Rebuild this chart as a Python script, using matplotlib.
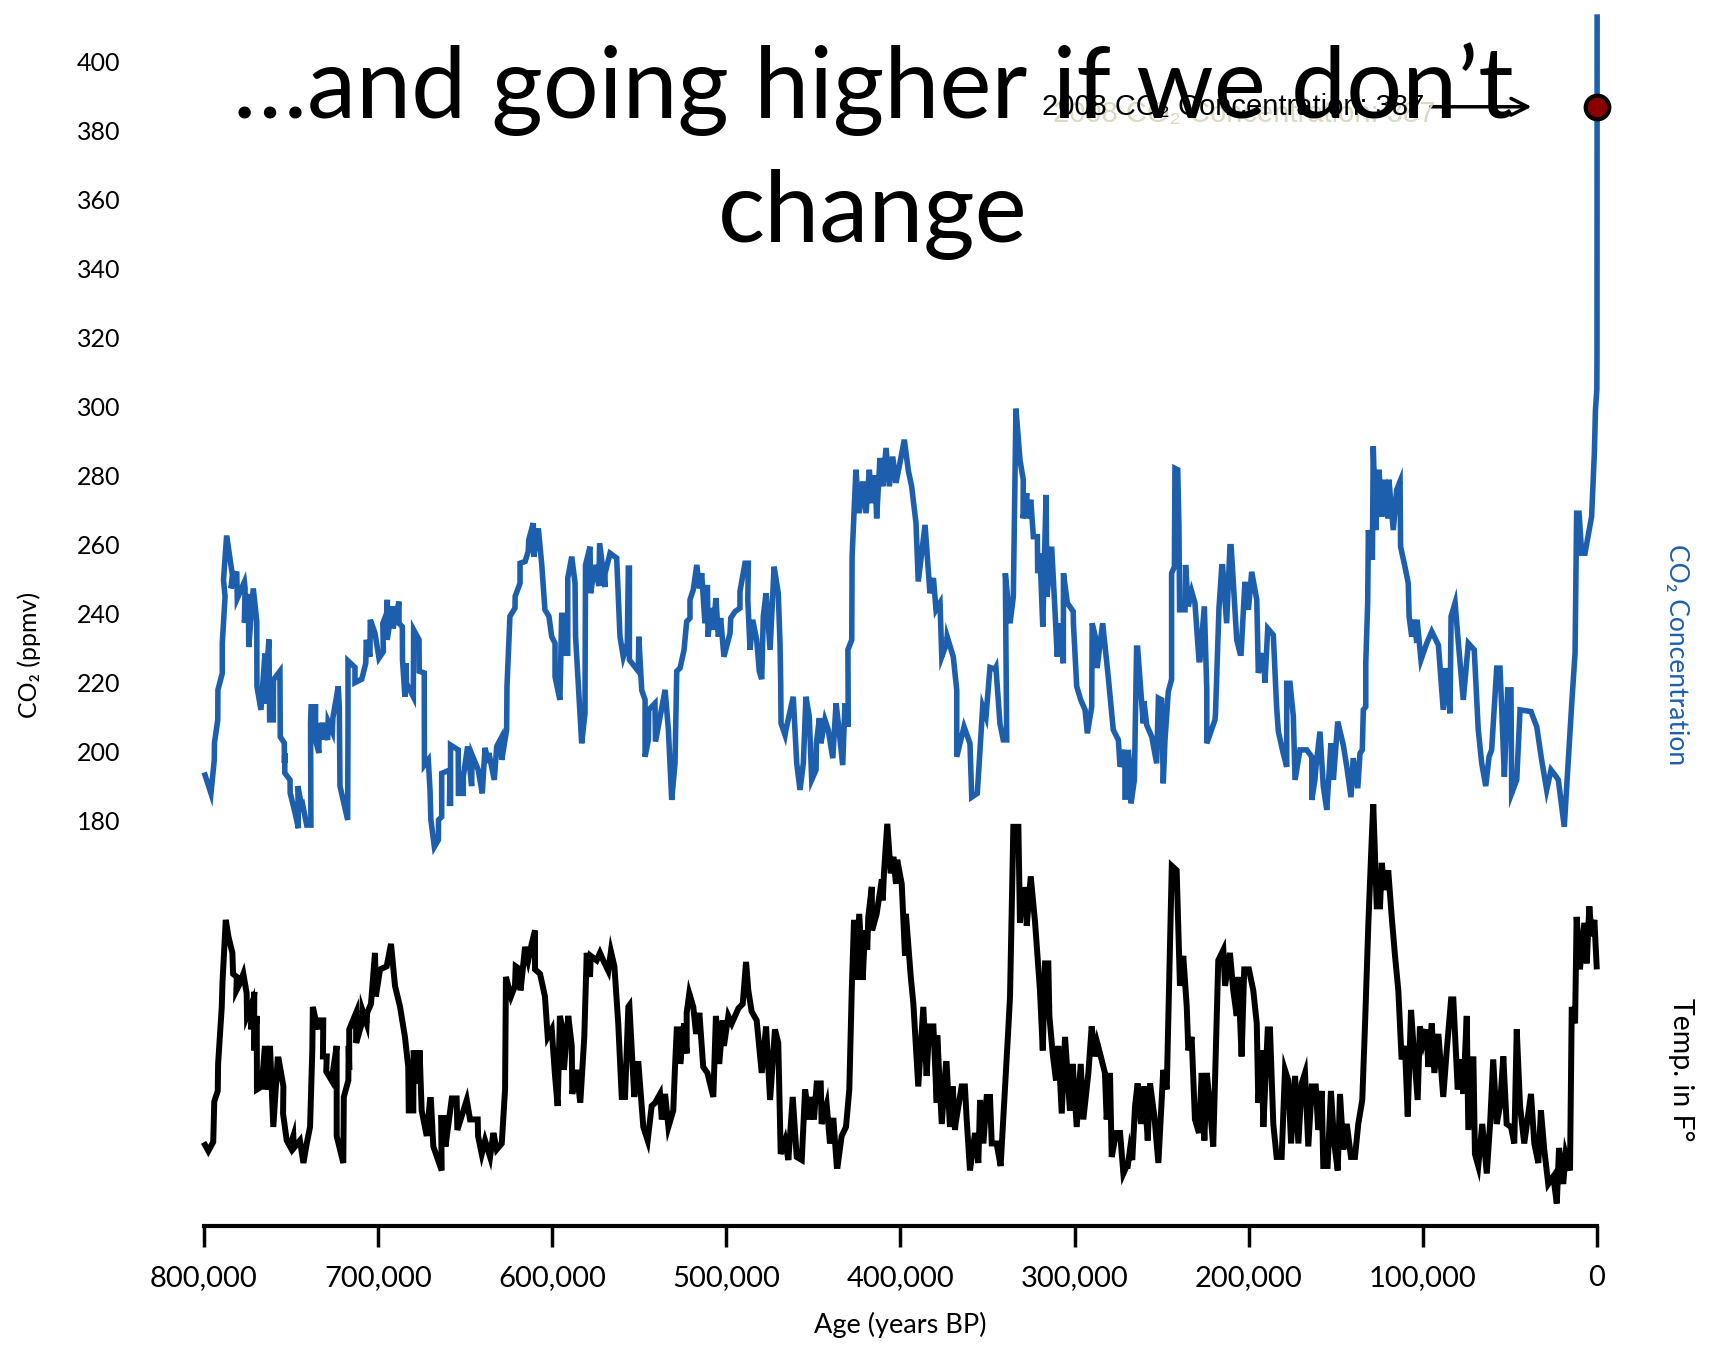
import numpy as np
import matplotlib.pyplot as plt

# ---- data: EPICA Dome C, CO2 (ppmv) and temperature anomaly (deg F) ----
co2_age_kyr = [
    799.4, 796.0, 794.1, 794.0, 792.1, 792.0, 789.5, 789.5, 787.9, 788.8, 787.1, 786.8,
    783.7, 784.5, 781.2, 780.9, 776.8, 776.4, 776.8, 774.5, 774.3, 771.7, 769.7, 769.6,
    767.3, 765.0, 765.3, 762.7, 762.3, 760.2, 760.1, 756.4, 756.2, 753.9, 753.8, 753.6,
    753.6, 750.6, 750.5, 747.7, 745.8, 746.1, 743.9, 743.3, 741.0, 738.6, 738.8, 738.5,
    735.9, 736.0, 734.0, 734.0, 732.4, 732.2, 729.0, 728.7, 726.3, 726.0, 722.9, 722.3,
    721.9, 717.5, 717.3, 717.3, 713.3, 713.3, 709.4, 707.1, 706.8, 704.7, 704.5, 701.8,
    699.5, 697.0, 697.3, 695.1, 694.7, 694.8, 691.8, 691.4, 688.0, 688.0, 686.1, 686.0,
    684.6, 684.0, 683.7, 679.8, 679.6, 676.5, 676.4, 673.5, 673.5, 673.4, 671.2, 670.2,
    669.7, 667.7, 665.4, 665.3, 663.5, 663.5, 658.7, 659.0, 658.4, 658.4, 654.0, 653.9,
    651.1, 651.1, 648.6, 646.3, 646.0, 642.5, 640.2, 638.6, 636.7, 636.4, 633.3, 631.9,
    629.4, 629.0, 626.2, 626.0, 624.3, 621.4, 621.3, 618.5, 618.5, 615.6, 613.8, 613.5,
    610.9, 610.6, 608.0, 606.1, 604.2, 601.9, 600.3, 598.4, 598.4, 595.6, 594.6, 594.0,
    593.9, 591.1, 591.1, 588.8, 586.9, 586.6, 583.1, 581.2, 580.9, 578.3, 578.0, 575.4,
    573.2, 572.8, 569.7, 569.7, 566.8, 563.0, 561.1, 559.2, 556.9, 556.3, 555.7, 555.7,
    550.6, 550.3, 548.6, 546.7, 546.7, 544.8, 544.6, 541.0, 540.7, 535.2,
    533.3, 531.4, 529.5, 528.5, 526.6, 524.7, 524.3, 522.8, 520.9, 520.9, 519.0, 517.0,
    515.5, 514.2, 512.3, 510.9, 510.5, 509.0, 507.5, 506.0, 504.6, 503.3, 501.4, 497.9,
    497.5, 495.0, 492.2, 492.2, 489.3, 487.4, 487.7, 486.4, 484.9, 482.6, 481.1, 479.7,
    478.8, 477.2, 474.9, 472.6, 470.2, 469.2, 468.8, 468.6, 466.3, 465.8, 461.6, 459.6,
    457.7, 455.8, 454.3, 452.4, 451.0, 448.5, 448.3, 446.6, 445.7, 443.4, 441.5, 438.9,
    437.0, 435.7, 433.2, 431.9, 430.0, 430.2, 428.0, 427.8, 425.6, 423.7, 421.7, 419.8,
    417.9, 416.5, 414.6, 413.7, 411.8, 410.2, 408.3, 406.4, 404.5, 402.6, 400.7, 397.8,
    395.5, 393.6, 391.1, 389.8, 385.9, 383.1, 381.1, 379.6, 377.3, 376.3, 373.5, 373.2,
    369.7, 367.7, 367.7, 363.5, 360.1, 359.1, 355.9, 352.8, 350.9, 348.6, 345.7, 345.2,
    342.9, 341.0, 339.0, 339.8, 337.1, 335.2, 333.7, 331.4, 329.5, 329.6, 327.5, 327.2,
    325.2, 323.7, 321.4, 321.2, 319.9, 318.3, 316.4, 315.9, 313.2, 311.3, 310.0, 308.4,
    306.5, 306.4, 304.2, 300.8, 300.7, 298.8, 296.5, 294.0, 292.7, 290.2, 289.9, 287.3,
    287.1, 283.9, 280.7, 277.8, 274.9, 273.9, 271.1, 271.1, 268.2,
    269.2, 267.6, 265.7, 264.4, 263.8, 260.6, 260.2, 258.6, 255.7, 252.9, 251.9, 250.0,
    249.1, 248.1, 246.2, 244.3, 244.3, 242.7, 242.4, 240.8, 240.1, 239.7, 236.6, 236.3,
    234.7, 232.8, 230.9, 228.6, 228.0, 225.5, 224.1, 224.1, 219.4, 219.1, 217.1, 215.5,
    215.0, 212.7, 210.8, 210.1, 206.9, 205.0, 204.4, 202.2, 200.2, 198.3, 195.4, 194.5,
    191.6, 190.7, 189.1, 185.9, 184.0, 183.0, 180.2, 178.2, 178.2, 176.3, 174.4, 173.4,
    170.6, 166.7, 163.8, 163.8, 162.0, 161.4, 159.1, 157.2, 155.2, 152.8, 151.4, 148.9,
    145.7, 143.7, 141.3, 140.0, 137.4, 136.1, 134.8, 134.2, 132.8, 132.8, 131.7, 131.3,
    129.0, 128.5, 127.1, 125.2, 123.6, 121.8, 119.9, 119.5, 117.0, 115.0, 113.1, 112.8,
    110.3, 108.4, 107.9, 106.4, 104.9, 103.5, 103.3, 101.1, 97.8, 94.9, 91.1, 88.3,
    86.9, 84.4, 83.8, 81.5, 79.6, 76.8, 73.9, 70.5, 68.2, 66.2, 63.9, 62.0,
    60.5, 57.6, 55.7, 54.7, 53.2, 51.3, 49.4, 49.0, 46.1, 44.2, 37.9, 34.6,
    31.8, 28.9, 26.4, 24.1, 22.2, 18.8, 14.5, 12.6, 11.7, 10.3, 8.8, 6.9,
    3.1, 1.5, 0.9, 0.1, 0.0, -0.058, -0.07,
]
co2_ppmv = [
    193.3, 188.0, 197.7, 202.6, 209.3, 218.0, 222.8, 231.6, 245.0, 249.9, 262.0, 262.0,
    251.3, 247.4, 252.3, 244.5, 249.3, 247.4, 237.5, 245.8, 230.4, 247.4, 237.9, 219.0,
    212.2, 228.5, 214.0, 232.6, 209.3, 209.3, 220.9, 223.4, 204.4, 202.6, 196.8, 199.7,
    193.9, 191.9, 188.1, 182.3, 177.9, 190.1, 184.2, 184.6, 178.8, 178.8, 208.4, 213.1,
    213.1, 203.5, 199.7, 208.4, 203.5, 208.4, 203.5, 208.8, 205.9, 209.8, 219.0, 213.1,
    190.1, 180.3, 207.3, 226.4, 224.5, 220.1, 221.1, 225.7, 232.5, 227.6, 238.3, 234.4,
    227.2, 229.1, 237.3, 240.2, 244.1, 232.5, 242.2, 235.8, 243.6, 237.3, 236.3, 226.7,
    216.0, 225.7, 219.9, 216.0, 235.4, 232.5, 223.4, 222.9, 216.0, 196.2, 197.7, 189.0,
    180.3, 172.5, 174.5, 180.3, 181.2, 193.8, 194.8, 185.1, 185.1, 202.0, 200.6, 188.0,
    188.0, 192.8, 201.6, 190.1, 199.1, 194.8, 188.0, 201.2, 196.8, 199.7, 191.9, 201.6,
    204.0, 197.7, 206.4, 219.0, 239.3, 241.7, 245.1, 248.9, 254.7, 255.2, 258.1, 261.5,
    266.3, 256.6, 264.8, 254.7, 241.2, 239.3, 233.4, 231.5, 221.8, 215.1, 239.6, 239.6,
    228.6, 228.6, 250.4, 256.6, 248.9, 233.4, 202.5, 211.2, 254.2, 259.5, 246.0, 254.2,
    248.1, 260.5, 247.8, 251.7, 257.6, 256.2, 233.4, 227.6, 231.5, 253.3, 253.3, 226.7,
    223.4, 233.4, 217.9, 215.1, 198.6, 203.5, 212.2, 214.1, 203.0, 218.0,
    206.4, 186.1, 196.7, 223.4, 224.3, 228.6, 229.6, 237.8, 238.8, 244.1, 247.0, 254.2,
    247.4, 251.8, 237.3, 248.4, 233.4, 241.7, 235.4, 244.6, 233.4, 238.8, 227.6, 234.4,
    238.8, 240.7, 241.7, 246.5, 254.7, 254.7, 244.1, 229.6, 238.3, 232.5, 223.4, 221.1,
    239.3, 246.0, 229.6, 253.7, 246.0, 231.5, 219.9, 208.3, 204.9, 206.4, 216.0, 196.7,
    189.0, 196.7, 216.0, 210.3, 191.9, 194.8, 202.5, 209.8, 202.5, 209.3, 206.4, 198.2,
    214.1, 208.3, 196.2, 214.1, 207.3, 229.6, 232.5, 256.6, 281.8, 269.2, 278.4, 269.2,
    281.8, 272.1, 280.2, 267.7, 285.2, 277.0, 288.1, 277.0, 285.6, 278.0, 282.8, 290.5,
    281.5, 277.0, 266.3, 249.4, 265.8, 246.0, 250.4, 241.2, 243.2, 227.6, 231.5, 233.4,
    227.6, 217.9, 198.6, 207.3, 202.5, 186.9, 188.0, 213.1, 210.3, 224.5, 224.0, 224.5,
    208.3, 203.5, 203.5, 251.8, 237.3, 245.0, 299.5, 284.7, 278.9, 267.7, 275.0, 267.7,
    273.1, 262.4, 262.4, 251.8, 257.6, 236.3, 274.5, 245.0, 259.5, 241.2, 227.6, 237.3,
    225.7, 251.8, 243.2, 240.7, 237.3, 219.0, 215.1, 212.2, 205.4, 213.1, 237.3, 231.6,
    224.3, 237.3, 221.8, 206.4, 203.5, 195.7, 200.6, 186.9, 186.9,
    200.6, 185.1, 191.9, 230.1, 230.1, 208.3, 214.7, 207.8, 204.4, 196.7, 215.6, 215.1,
    190.9, 203.5, 217.5, 221.1, 251.8, 253.7, 282.2, 281.8, 265.3, 241.2, 241.2, 254.2,
    242.2, 246.5, 243.2, 226.7, 226.7, 242.2, 217.9, 202.5, 209.3, 211.2, 241.7, 253.7,
    253.7, 237.3, 259.5, 259.5, 232.5, 228.6, 228.6, 249.3, 241.2, 252.2, 244.1, 222.9,
    228.6, 220.1, 235.8, 233.9, 213.1, 205.9, 199.6, 195.7, 219.9, 219.9, 210.3, 191.9,
    200.6, 200.6, 198.6, 186.1, 191.9, 195.7, 205.9, 190.1, 183.2, 202.5, 191.9, 208.8,
    202.0, 195.7, 186.9, 198.2, 189.5, 199.6, 200.6, 212.2, 213.1, 225.7, 243.2, 264.3,
    255.7, 288.6, 264.3, 281.8, 268.2, 278.9, 267.7, 278.9, 264.3, 276.0, 278.4, 259.5,
    253.7, 248.9, 239.3, 233.4, 238.3, 231.6, 238.3, 226.7, 231.5, 234.9, 231.0, 212.2,
    224.3, 211.2, 239.3, 243.2, 231.5, 215.1, 231.5, 229.6, 206.4, 196.7, 190.1, 198.6,
    200.6, 224.3, 224.3, 212.2, 192.8, 218.0, 218.0, 188.0, 191.9, 212.2, 211.7, 207.3,
    197.7, 189.0, 194.8, 193.3, 191.9, 178.3, 214.1, 228.6, 269.2, 269.2, 257.6, 257.6,
    268.2, 286.9, 299.0, 305.0, 315.0, 387.0, 413.0,
]

temp_age_kyr = [
    799.4, 797.5, 794.7, 794.1, 792.1, 791.9, 789.8, 789.4, 787.5, 786.0, 783.7, 783.3,
    781.2, 781.4, 779.3, 777.4, 775.5, 775.3, 772.6, 772.9, 771.1, 771.3, 769.7, 769.6,
    766.9, 765.0, 764.5, 762.1, 760.2, 757.7, 757.1, 754.4, 754.6, 752.5, 750.6, 748.7,
    748.4, 744.9, 742.9, 741.0, 739.1, 737.8, 737.5, 734.7, 734.3, 731.5, 731.7, 729.5,
    729.8, 726.7, 723.8, 723.8, 720.0, 719.7, 717.1, 716.9, 716.6, 716.6, 712.7, 712.6,
    709.4, 709.1, 706.6, 706.3, 704.1, 701.8, 701.3, 698.9, 695.1, 692.6, 690.3, 687.4,
    684.6, 682.7, 682.4, 679.8, 679.6, 676.5, 676.2, 675.0, 672.1, 670.2, 669.7, 668.3,
    663.5, 663.8, 661.6, 661.3, 657.7, 654.9, 654.5, 649.1, 647.2, 642.8, 642.6, 640.5,
    638.6, 635.7, 633.8, 631.9, 629.0, 627.1, 626.8, 626.6, 623.7, 621.4, 621.0, 618.5,
    618.2, 615.6, 613.8, 611.8, 609.9, 609.9, 607.0, 604.2, 602.6, 600.3, 598.4, 596.9,
    595.6, 593.6, 593.3, 590.8, 588.8, 588.5, 586.0, 584.1, 583.8, 581.6, 580.2, 578.3,
    577.9, 574.5, 572.6, 570.7, 567.8, 566.3, 564.3, 562.1, 560.1, 558.2, 556.3, 555.7,
    552.9, 550.9, 550.5, 547.7, 545.2, 542.9, 541.0, 538.1, 537.1, 535.2,
    533.3, 530.5, 529.5, 528.5, 526.6, 526.5, 524.3, 522.8, 522.8, 521.3, 519.0, 517.4,
    515.5, 513.3, 510.9, 507.5, 506.0, 504.1, 502.1, 501.4, 498.9, 496.9, 495.0, 493.1,
    490.6, 488.7, 487.4, 485.5, 482.6, 479.7, 477.2, 474.9, 472.1, 470.2, 468.8, 466.3,
    464.4, 461.9, 459.6, 456.7, 454.8, 452.4, 451.0, 449.7, 448.1, 445.8, 445.3, 442.4,
    440.5, 438.6, 436.6, 436.1, 433.8, 431.3, 429.4, 428.0, 426.7, 425.2, 423.7, 421.7,
    420.4, 419.1, 418.5, 416.5, 416.3, 413.7, 410.7, 410.2, 409.5, 407.6, 405.6, 404.1,
    402.6, 401.9, 399.3, 397.4, 396.9, 394.1, 392.6, 389.8, 386.9, 385.0, 383.5, 381.1,
    379.2, 378.9, 376.3, 373.9, 373.5, 371.6, 370.0, 368.7, 368.4, 364.9, 363.0, 362.0,
    360.1, 357.2, 355.3, 354.3, 352.4, 350.5, 348.6, 347.6, 344.8, 342.5, 340.0, 338.1,
    337.1, 335.2, 332.3, 331.4, 329.8, 327.9, 327.5, 325.2, 322.7, 319.9, 318.3, 317.0,
    315.1, 314.5, 312.6, 310.7, 309.4, 307.4, 305.5, 302.7, 301.1, 298.8, 296.5, 295.0,
    292.1, 290.2, 288.3, 287.0, 285.4, 282.6, 281.6, 279.7, 278.7, 276.2, 273.9, 272.0,
    270.1, 269.5, 268.2, 266.9, 265.3, 263.8, 261.9, 260.0, 258.0, 256.7, 254.2, 251.9,
    249.1, 247.1, 244.2, 241.4, 239.5, 237.6, 235.6, 234.7, 232.8, 230.9, 228.6, 227.0,
    225.5, 224.1, 222.3, 220.4, 219.0, 217.5, 214.6, 213.6, 210.8, 208.9, 206.9, 206.0,
    204.1, 202.6, 199.9, 197.4, 195.4, 194.5, 192.6, 191.6, 189.1, 187.8, 185.9, 184.0,
    181.1, 179.2, 177.3, 175.7, 173.4, 171.5, 169.6, 167.7, 165.8, 163.8, 161.5, 160.1,
    158.1, 157.2, 154.7, 152.8, 150.9, 148.9, 147.6, 145.7, 143.7, 141.3, 139.0, 137.1,
    134.8, 133.2, 131.3, 129.4, 128.5, 127.5, 126.5, 124.6, 123.6, 122.2, 119.9, 117.9,
    116.0, 114.1, 112.2, 110.3, 108.7, 106.8, 105.5, 103.0, 101.7, 99.8, 97.8, 96.9,
    94.9, 93.4, 91.1, 88.3, 86.3, 83.8, 82.5, 80.0, 78.1, 76.8, 74.8, 73.9,
    71.0, 70.1, 68.2, 65.9, 63.3, 61.4, 59.6, 57.6, 55.7, 53.8, 51.9, 49.4,
    47.5, 46.1, 44.2, 41.8, 37.9, 36.0, 33.7, 32.2, 30.3, 28.0, 25.1, 23.1,
    21.8, 19.4, 18.0, 15.5, 14.5, 12.6, 11.7, 9.8, 7.3, 5.9, 4.4, 3.1,
    1.5, 0.2,
]
temp_anomaly_f = [
    -13.0, -13.4, -12.8, -10.1, -9.4, -7.6, -3.8, -2.2, 2.0, 0.9, -0.2, -1.6,
    -1.8, -2.7, -2.2, -1.6, -2.9, -4.4, -3.6, -5.3, -2.8, -6.7, -4.4, -9.3,
    -9.1, -6.4, -9.3, -6.4, -11.8, -7.3, -7.3, -9.1, -10.9, -12.7, -13.1, -12.4,
    -13.2, -12.7, -14.2, -12.9, -11.8, -6.7, -3.8, -5.3, -4.7, -4.7, -7.1, -7.1,
    -8.1, -8.7, -6.4, -12.4, -14.2, -9.8, -8.7, -6.4, -8.0, -5.3, -4.2, -6.2,
    -4.9, -4.0, -4.9, -4.2, -3.6, -0.2, -3.1, -1.3, -1.1, 0.4, -2.4, -3.8,
    -5.8, -7.8, -10.7, -10.7, -6.7, -8.9, -6.7, -10.7, -12.4, -10.0, -10.0, -13.1,
    -14.7, -11.2, -11.2, -13.1, -9.9, -9.9, -12.0, -10.0, -11.3, -11.3, -12.4, -13.6,
    -12.7, -13.8, -12.2, -13.3, -12.9, -9.3, -5.3, -1.8, -3.1, -2.4, -1.1, -1.3,
    -2.7, 0.2, -0.7, 0.4, 1.3, -1.3, -1.6, -3.1, -5.8, -5.3, -8.4, -10.4,
    -4.4, -5.6, -8.0, -4.4, -6.4, -9.6, -8.0, -10.0, -10.0, -5.8, -0.2, -1.8,
    -0.4, -0.7, -0.2, -0.7, -1.4, -0.1, -1.1, -4.9, -9.8, -9.8, -3.8, -3.7,
    -9.8, -7.6, -7.6, -11.8, -12.7, -10.4, -10.2, -9.6, -11.3, -9.6,
    -11.8, -10.7, -7.8, -5.3, -5.3, -7.6, -4.9, -6.9, -4.2, -2.9, -3.8, -5.6,
    -4.2, -7.8, -8.2, -9.8, -4.4, -7.6, -4.7, -6.4, -4.4, -4.9, -4.4, -3.9,
    -3.6, -0.8, -2.7, -4.1, -4.7, -8.2, -5.1, -10.0, -5.3, -6.2, -13.6, -12.7,
    -14.0, -9.8, -13.8, -14.0, -9.3, -11.3, -9.8, -11.3, -8.9, -8.9, -11.6, -10.3,
    -12.9, -11.2, -14.4, -14.4, -12.4, -11.8, -9.3, -2.7, 2.0, -2.0, 2.4, -2.0,
    1.3, 0.0, 2.2, 4.2, 1.3, 2.4, 4.7, 3.3, 5.1, 8.4, 5.1, 6.2,
    4.4, 6.0, 4.4, -0.4, 2.4, -1.8, -3.6, -9.1, -3.8, -8.4, -5.1, -5.1,
    -10.2, -5.7, -11.6, -7.6, -7.6, -11.8, -9.1, -12.0, -11.6, -9.1, -9.1, -11.3,
    -14.7, -12.2, -14.2, -10.0, -12.9, -9.8, -9.8, -12.9, -12.9, -14.4, -9.3, -5.3,
    -3.1, 8.2, 8.2, 1.8, 4.0, 4.0, 1.6, 4.9, 1.8, -2.7, -6.7, -0.9,
    -0.9, -4.4, -6.9, -8.7, -6.4, -10.9, -5.8, -10.7, -7.6, -11.8, -7.6, -11.3,
    -8.2, -5.1, -7.1, -6.2, -6.9, -8.2, -11.3, -8.2, -13.8, -12.2, -12.2, -14.9,
    -14.4, -14.4, -13.3, -14.0, -10.4, -8.9, -11.6, -9.1, -12.7, -8.9, -11.1, -14.2,
    -8.0, -9.3, 5.6, 5.3, -2.4, -0.4, -3.8, -6.7, -5.8, -11.3, -12.2, -8.2,
    -12.7, -8.2, -10.4, -13.1, -7.1, -0.7, 0.0, -2.4, -0.2, -2.7, -4.4, -1.8,
    -7.1, -1.3, -1.3, -2.7, -4.9, -10.2, -6.7, -11.8, -5.3, -5.3, -11.6, -13.8,
    -13.8, -8.0, -8.7, -12.9, -8.4, -12.9, -8.9, -8.2, -13.1, -9.1, -9.1, -12.0,
    -9.4, -14.4, -14.4, -9.4, -12.9, -14.7, -9.6, -13.3, -11.6, -13.8, -13.8, -11.6,
    -10.0, -4.9, 1.8, 7.3, 9.7, 6.2, 2.9, 2.9, 5.8, 4.0, 5.3, 2.2,
    -0.4, -2.7, -7.3, -6.4, -11.1, -4.0, -6.2, -10.0, -5.1, -6.2, -5.3, -7.8,
    -4.9, -8.2, -5.6, -9.8, -6.7, -3.3, -3.3, -9.3, -7.3, -9.6, -4.4, -12.0,
    -7.1, -13.6, -14.4, -11.6, -14.9, -11.6, -7.3, -11.6, -10.4, -7.1, -11.6, -11.8,
    -12.9, -5.3, -10.4, -12.9, -9.6, -12.9, -14.2, -10.7, -13.3, -15.6, -15.1, -16.9,
    -13.2, -15.6, -13.6, -14.7, -3.8, -4.9, 2.2, -1.3, 1.8, -0.9, 2.9, 0.9,
    2.0, -1.1,
]

co2_ticks = list(range(180, 401, 20))
age_ticks = list(range(0, 800001, 100000))
age_tick_labels = [f"{a:,}" for a in age_ticks]

co2_2008 = 387

blue = '#1e5fad'
font = ['Lato', 'DejaVu Sans']
plt.rcParams['font.family'] = font

W, H = 1712, 1348
fig = plt.figure(figsize=(W / 100, H / 100), dpi=100)
ax = fig.add_axes([204 / W, 122 / H, (1597 - 204) / W, (1226 - 15) / H])

age_co2 = np.array(co2_age_kyr) * 1000
age_t = np.array(temp_age_kyr) * 1000

# blue curve left unclipped so the modern spike at age 0 keeps its full width
ax.plot(age_co2, co2_ppmv, color=blue, lw=4, solid_joinstyle='miter', zorder=3, clip_on=False)
ax.set_xlim(800000, 0)
ax.set_ylim(62.6, 413.6)

# temperature on its own hidden scale
ax2 = ax.twinx()
ax2.plot(age_t, temp_anomaly_f, color='black', lw=4.3, solid_joinstyle='miter', clip_on=False)
ax2.set_ylim(-18.4, 62.3)
ax2.set_xlim(800000, 0)
ax2.axis('off')

for s in ['left', 'right', 'top']:
    ax.spines[s].set_visible(False)
ax.spines['bottom'].set_linewidth(3)
ax.set_xticks(age_ticks)
ax.set_xticklabels(age_tick_labels)
ax.set_yticks(co2_ticks)
ax.tick_params(axis='x', direction='out', length=15, width=2.5, pad=13, labelsize=21)
ax.tick_params(axis='y', length=0, pad=60, labelsize=18)
for lab in ax.get_yticklabels():
    lab.set_horizontalalignment('right')

ax.set_xlabel('Age (years BP)', fontsize=19.5, labelpad=15)
fig.text(29 / W, 1 - 655 / H, 'CO₂ (ppmv)', rotation=90, ha='center', va='center', fontsize=18)
fig.text(1676 / W, 1 - 655 / H, 'CO₂ Concentration', rotation=-90, ha='center', va='center',
         fontsize=19, color=blue)
fig.text(1681 / W, 1 - 1070 / H, 'Temp. in F°', rotation=-90, ha='center', va='center',
         fontsize=20.5)

# 2008 marker and callout
ax.plot([-58], [co2_2008], 'o', ms=17, mfc='#8b0000', mec='black', mew=3, zorder=5, clip_on=False)
ax.annotate('', xy=(36000, co2_2008), xytext=(97000, co2_2008),
            arrowprops=dict(arrowstyle='->', color='black', lw=2.5, mutation_scale=30), zorder=4)
lbl = f'2008 CO₂ Concentration: {co2_2008}'
ax.text(93000, co2_2008 - 2, lbl, ha='right', va='center', fontsize=21,
        family=['Liberation Sans', 'DejaVu Sans'], color='#ddd8c2', zorder=4)
ax.text(99000, co2_2008, lbl, ha='right', va='center', fontsize=21,
        family=['Liberation Sans', 'DejaVu Sans'], color='black', zorder=4)

fig.text(873 / W, 1 - 151 / H, '…and going higher if we don’t\nchange', ha='center', va='center',
         fontsize=71, linespacing=1.45, zorder=10)

fig.savefig('out.png', dpi=100)
